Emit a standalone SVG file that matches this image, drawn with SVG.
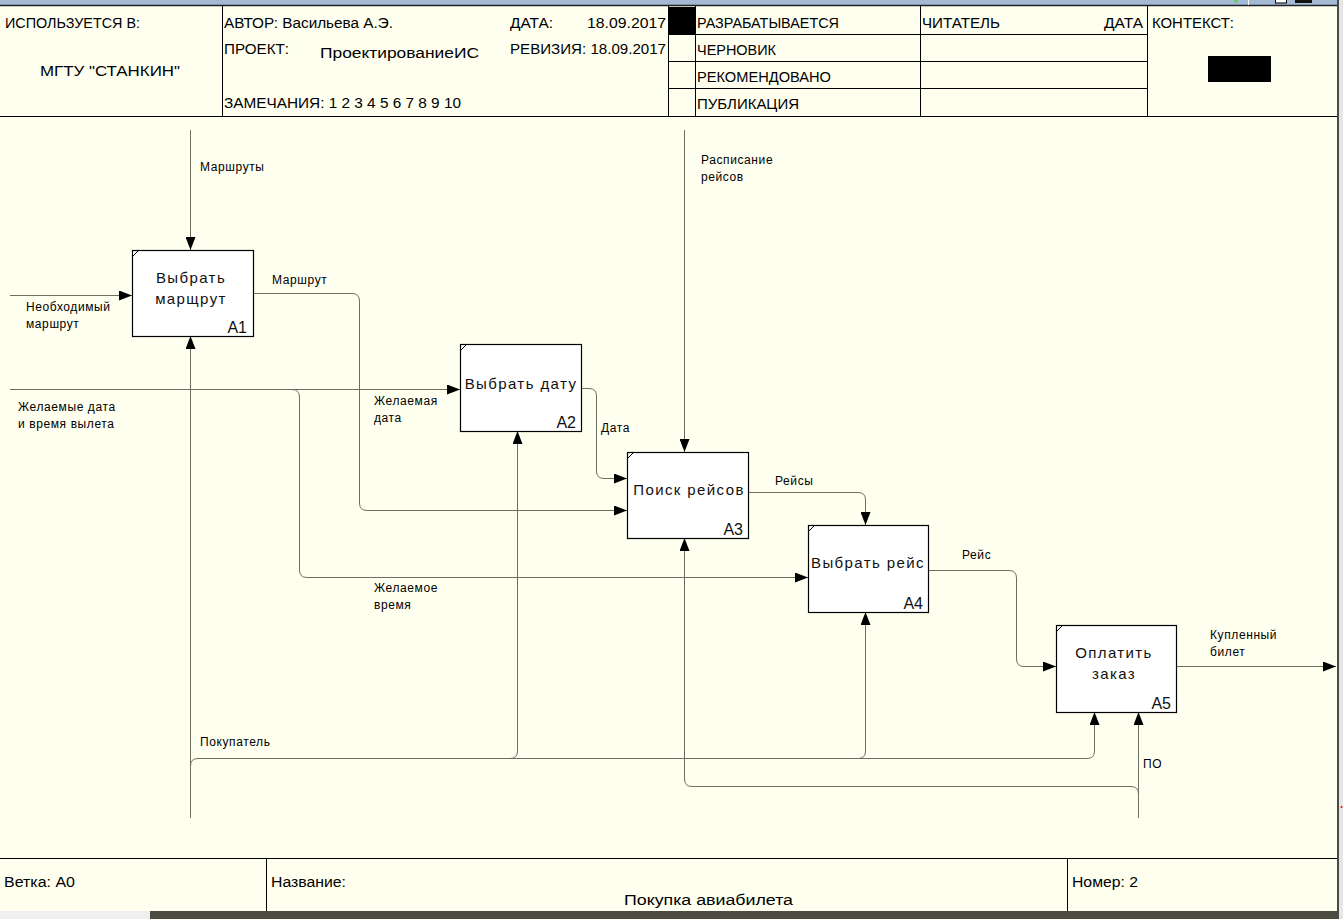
<svg xmlns="http://www.w3.org/2000/svg" width="1343" height="919" viewBox="0 0 1343 919">
  <style>
    .hdr { font-family: "Liberation Sans", Arial, sans-serif; font-size: 14px; fill: #000; }
    .lbl { font-family: "Liberation Sans", Arial, sans-serif; font-size: 12px; fill: #000; letter-spacing: 0.6px; }
    .box { fill: #fff; stroke: #000; stroke-width: 1.2; }
    .btx { font-family: "Liberation Sans", Arial, sans-serif; font-size: 15px; fill: #111; letter-spacing: 1.4px; text-anchor: middle; }
    .num { font-family: "Liberation Sans", Arial, sans-serif; font-size: 16px; fill: #111; text-anchor: end; }
    .grid { stroke: #000; stroke-width: 1; fill: none; }
    .arc { stroke: #6e6e60; stroke-width: 1; fill: none; }
    .tick { stroke: #000; stroke-width: 1; }
  </style>
  <defs>
    <marker id="arrow" viewBox="0 0 13 10" markerWidth="13" markerHeight="10" refX="13" refY="5" orient="auto" markerUnits="userSpaceOnUse">
      <path d="M0,0 L13,5 L0,10 z" fill="#000"/>
    </marker>
  </defs>

  <!-- page background and window chrome -->
  <rect x="0" y="0" width="1343" height="919" fill="#ffffef"/>
  <rect x="0" y="0" width="1343" height="5" fill="#a3b9d4"/>
  <line x1="0" y1="5.5" x2="1337" y2="5.5" stroke="#222" stroke-width="1.5"/>
  <line x1="1248.5" y1="0" x2="1248.5" y2="5" stroke="#fff"/>
  <circle cx="1236" cy="1" r="2" fill="#6c6"/>
  <rect x="1275.5" y="-1" width="11" height="4" fill="#fff" stroke="#000"/>
  <rect x="1295" y="0" width="17" height="3" fill="#111"/>
  <rect x="1337" y="0" width="2" height="919" fill="#4a4a4a"/>
  <rect x="1339" y="0" width="4" height="919" fill="#e6e6e6"/>
  <circle cx="1341.5" cy="807" r="1" fill="#e00"/>
  <rect x="0" y="911" width="150" height="8" fill="#efefef"/>
  <rect x="150" y="911" width="1187" height="8" fill="#4b4b42"/>

  <!-- header frame -->
  <g id="header">
    <line class="grid" x1="0" y1="116.5" x2="1337" y2="116.5"/>
    <line class="grid" x1="222.5" y1="6" x2="222.5" y2="116"/>
    <line class="grid" x1="668.5" y1="6" x2="668.5" y2="116"/>
    <line class="grid" x1="695.5" y1="6" x2="695.5" y2="116"/>
    <line class="grid" x1="920.5" y1="6" x2="920.5" y2="116"/>
    <line class="grid" x1="1147.5" y1="6" x2="1147.5" y2="116"/>
    <line class="grid" x1="668" y1="34.5" x2="1147" y2="34.5"/>
    <line class="grid" x1="668" y1="61.5" x2="1147" y2="61.5"/>
    <line class="grid" x1="668" y1="88.5" x2="1147" y2="88.5"/>
    <rect x="669" y="7" width="26" height="27" fill="#000"/>
    <rect x="1208" y="56" width="63" height="26" fill="#000"/>

    <text class="hdr" x="5" y="28" textLength="135" lengthAdjust="spacingAndGlyphs">ИСПОЛЬЗУЕТСЯ В:</text>
    <text class="hdr" x="40" y="76" textLength="140" lengthAdjust="spacingAndGlyphs">МГТУ "СТАНКИН"</text>
    <text class="hdr" x="224" y="28" textLength="169" lengthAdjust="spacingAndGlyphs">АВТОР: Васильева А.Э.</text>
    <text class="hdr" x="510" y="28" textLength="43" lengthAdjust="spacingAndGlyphs">ДАТА:</text>
    <text class="hdr" x="587" y="28" textLength="79" lengthAdjust="spacingAndGlyphs">18.09.2017</text>
    <text class="hdr" x="224" y="54" textLength="65" lengthAdjust="spacingAndGlyphs">ПРОЕКТ:</text>
    <text class="hdr" x="320" y="58" font-size="15" textLength="159" lengthAdjust="spacingAndGlyphs">ПроектированиеИС</text>
    <text class="hdr" x="510" y="54" textLength="156" lengthAdjust="spacingAndGlyphs">РЕВИЗИЯ: 18.09.2017</text>
    <text class="hdr" x="224" y="108" textLength="237" lengthAdjust="spacingAndGlyphs">ЗАМЕЧАНИЯ: 1 2 3 4 5 6 7 8 9 10</text>

    <text class="hdr" x="697" y="28" textLength="142" lengthAdjust="spacingAndGlyphs">РАЗРАБАТЫВАЕТСЯ</text>
    <text class="hdr" x="697" y="55" textLength="79" lengthAdjust="spacingAndGlyphs">ЧЕРНОВИК</text>
    <text class="hdr" x="697" y="82" textLength="134" lengthAdjust="spacingAndGlyphs">РЕКОМЕНДОВАНО</text>
    <text class="hdr" x="697" y="109" textLength="102" lengthAdjust="spacingAndGlyphs">ПУБЛИКАЦИЯ</text>
    <text class="hdr" x="922" y="28" textLength="78" lengthAdjust="spacingAndGlyphs">ЧИТАТЕЛЬ</text>
    <text class="hdr" x="1104" y="28" textLength="39" lengthAdjust="spacingAndGlyphs">ДАТА</text>
    <text class="hdr" x="1152" y="28" textLength="82" lengthAdjust="spacingAndGlyphs">КОНТЕКСТ:</text>
  </g>

  <!-- footer frame -->
  <g id="footer">
    <line class="grid" x1="0" y1="858.5" x2="1337" y2="858.5"/>
    <line class="grid" x1="266.5" y1="858" x2="266.5" y2="911"/>
    <line class="grid" x1="1067.5" y1="858" x2="1067.5" y2="911"/>
    <text class="hdr" x="4" y="887" textLength="71" lengthAdjust="spacingAndGlyphs">Ветка: A0</text>
    <text class="hdr" x="271" y="887" textLength="75" lengthAdjust="spacingAndGlyphs">Название:</text>
    <text class="hdr" x="624" y="905" textLength="169" lengthAdjust="spacingAndGlyphs">Покупка авиабилета</text>
    <text class="hdr" x="1072" y="887" textLength="66" lengthAdjust="spacingAndGlyphs">Номер: 2</text>
  </g>

  <!-- connectors -->
  <g id="connectors">
    <path class="arc" d="M190.5,130 V250" marker-end="url(#arrow)"/>
    <path class="arc" d="M10,295.5 H132" marker-end="url(#arrow)"/>
    <path class="arc" d="M253,293.5 H352 Q359.5,293.5 359.5,301 V503 Q359.5,510.5 367,510.5 H627" marker-end="url(#arrow)"/>
    <path class="arc" d="M10,389.5 H460" marker-end="url(#arrow)"/>
    <path class="arc" d="M292,389.5 Q299.5,389.5 299.5,397 V570 Q299.5,577.5 307,577.5 H808" marker-end="url(#arrow)"/>
    <path class="arc" d="M581,388.5 H589 Q596.5,388.5 596.5,396 V471 Q596.5,478.5 604,478.5 H627" marker-end="url(#arrow)"/>
    <path class="arc" d="M684.5,130 V452" marker-end="url(#arrow)"/>
    <path class="arc" d="M748,492.5 H858 Q865.5,492.5 865.5,500 V525" marker-end="url(#arrow)"/>
    <path class="arc" d="M928,570.5 H1009 Q1016.5,570.5 1016.5,578 V659 Q1016.5,666.5 1024,666.5 H1056" marker-end="url(#arrow)"/>
    <path class="arc" d="M1176,666.5 H1336" marker-end="url(#arrow)"/>
    <!-- Покупатель -->
    <path class="arc" d="M190.5,818 V336" marker-end="url(#arrow)"/>
    <path class="arc" d="M190.5,766 Q190.5,758.5 198,758.5 H1087 Q1094.5,758.5 1094.5,751 V712" marker-end="url(#arrow)"/>
    <path class="arc" d="M510,758.5 Q517.5,758.5 517.5,751 V431" marker-end="url(#arrow)"/>
    <path class="arc" d="M858,758.5 Q865.5,758.5 865.5,751 V612" marker-end="url(#arrow)"/>
    <!-- ПО -->
    <path class="arc" d="M1138.5,818 V712" marker-end="url(#arrow)"/>
    <path class="arc" d="M1138.5,794 Q1138.5,786.5 1131,786.5 H692 Q684.5,786.5 684.5,779 V538" marker-end="url(#arrow)"/>

    <text class="lbl" x="200" y="171">Маршруты</text>
    <text class="lbl" x="26" y="311">Необходимый</text>
    <text class="lbl" x="26" y="328">маршрут</text>
    <text class="lbl" x="272" y="284">Маршрут</text>
    <text class="lbl" x="18" y="411">Желаемые дата</text>
    <text class="lbl" x="18" y="428">и время вылета</text>
    <text class="lbl" x="374" y="405">Желаемая</text>
    <text class="lbl" x="374" y="422">дата</text>
    <text class="lbl" x="374" y="592">Желаемое</text>
    <text class="lbl" x="374" y="609">время</text>
    <text class="lbl" x="601" y="432">Дата</text>
    <text class="lbl" x="701" y="164">Расписание</text>
    <text class="lbl" x="701" y="181">рейсов</text>
    <text class="lbl" x="775" y="485">Рейсы</text>
    <text class="lbl" x="962" y="559">Рейс</text>
    <text class="lbl" x="1210" y="639">Купленный</text>
    <text class="lbl" x="1210" y="656">билет</text>
    <text class="lbl" x="200" y="746">Покупатель</text>
    <text class="lbl" x="1143" y="768" font-size="13">ПО</text>
  </g>

  <!-- activity boxes -->
  <g id="A1">
    <rect class="box" x="132.5" y="250.5" width="121" height="86"/>
    <line class="tick" x1="133" y1="256" x2="139" y2="250"/>
    <text class="btx" x="191" y="283">Выбрать</text>
    <text class="btx" x="191" y="304">марщрут</text>
    <text class="num" x="247" y="333">A1</text>
  </g>
  <g id="A2">
    <rect class="box" x="460.5" y="344.5" width="121" height="87"/>
    <line class="tick" x1="461" y1="350" x2="467" y2="344"/>
    <text class="btx" x="521" y="389">Выбрать дату</text>
    <text class="num" x="576" y="428">A2</text>
  </g>
  <g id="A3">
    <rect class="box" x="627.5" y="452.5" width="121" height="86"/>
    <line class="tick" x1="628" y1="458" x2="634" y2="452"/>
    <text class="btx" x="689" y="495">Поиск рейсов</text>
    <text class="num" x="743" y="535">A3</text>
  </g>
  <g id="A4">
    <rect class="box" x="808.5" y="525.5" width="120" height="87"/>
    <line class="tick" x1="809" y1="531" x2="815" y2="525"/>
    <text class="btx" x="868" y="568">Выбрать рейс</text>
    <text class="num" x="923" y="609">A4</text>
  </g>
  <g id="A5">
    <rect class="box" x="1056.5" y="625.5" width="120" height="87"/>
    <line class="tick" x1="1057" y1="631" x2="1063" y2="625"/>
    <text class="btx" x="1114" y="658">Оплатить</text>
    <text class="btx" x="1114" y="679">заказ</text>
    <text class="num" x="1171" y="709">A5</text>
  </g>
</svg>
